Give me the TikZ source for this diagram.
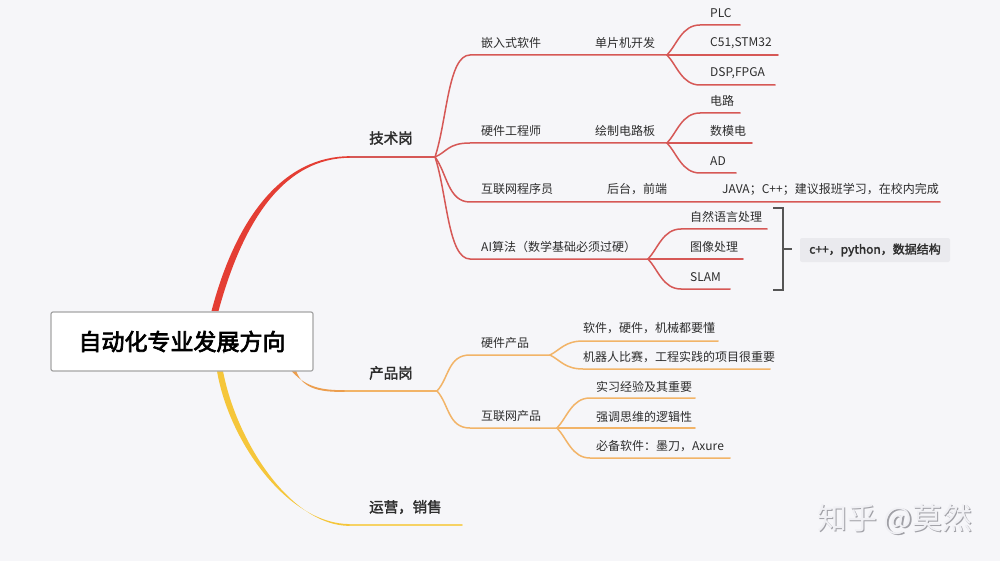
\documentclass[tikz,border=0pt]{standalone}
\usepackage{fontspec}
\setmainfont{Noto Sans CJK SC}[AutoFakeBold=2]
\newfontfamily\rootfont{Noto Sans CJK SC}[AutoFakeBold=3]
\usetikzlibrary{calc}
\definecolor{bg}{RGB}{246,246,249}
\definecolor{txt}{RGB}{45,45,45}
\definecolor{redthick}{RGB}{228,62,52}
\definecolor{redthin}{RGB}{214,88,86}
\definecolor{orthick}{RGB}{236,158,78}
\definecolor{orthin}{RGB}{242,180,104}
\definecolor{yethick}{RGB}{245,198,58}
\definecolor{yethin}{RGB}{246,210,100}
\definecolor{brk}{RGB}{85,85,85}
\definecolor{tagbg}{RGB}{234,234,238}
\definecolor{wmfront}{RGB}{240,240,244}
\definecolor{wmshadow}{RGB}{160,160,166}
\tikzset{
  lbl/.style={anchor=west, inner sep=0pt, text=txt, font=\fontsize{12}{14}\selectfont},
  mainlbl/.style={anchor=west, inner sep=0pt, text=txt, font=\fontsize{14.5}{17}\selectfont\bfseries},
  rl/.style={draw=redthin, line width=1.5pt, line cap=round},
  ol/.style={draw=orthin, line width=1.5pt, line cap=round},
  yl/.style={draw=yethin, line width=1.7pt, line cap=round},
}
\begin{document}
\begin{tikzpicture}[x=1pt,y=-1pt]
\fill[bg] (0,0) rectangle (1000,561);
\useasboundingbox (0,0) rectangle (1000,561);

% ---------- coordinates ----------
\coordinate (rt) at (215,311);
\coordinate (rh) at (350,157);
\coordinate (jT) at (435,157);
\coordinate (ot) at (292,369);
\coordinate (oh) at (345,391);
\coordinate (jP) at (437,391);
\coordinate (yt) at (220,371);
\coordinate (yh) at (350,525);
\coordinate (ye) at (462,525);

\coordinate (a1s) at (470,55);  \coordinate (a1j) at (667,55);
\coordinate (a2s) at (470,143); \coordinate (a2j) at (667,143);
\coordinate (a3s) at (470,202); \coordinate (a3e) at (940,202);
\coordinate (a4s) at (470,259); \coordinate (a4j) at (648,259);

\coordinate (b1s) at (700,25);  \coordinate (b1e) at (740,25);
\coordinate (b2e) at (778,55);
\coordinate (b3s) at (700,85);  \coordinate (b3e) at (775,85);
\coordinate (c1s) at (700,113); \coordinate (c1e) at (740,113);
\coordinate (c2e) at (752,143);
\coordinate (c3s) at (700,173); \coordinate (c3e) at (736,173);
\coordinate (d1s) at (681,229); \coordinate (d1e) at (767,229);
\coordinate (d2e) at (743,259);
\coordinate (d3s) at (681,289); \coordinate (d3e) at (730,289);

\coordinate (e1s) at (470,355); \coordinate (e1j) at (550,355);
\coordinate (e2s) at (470,428); \coordinate (e2j) at (557,428);
\coordinate (f1s) at (583,341); \coordinate (f1e) at (718,341);
\coordinate (f2s) at (583,369); \coordinate (f2e) at (770,369);
\coordinate (g1s) at (590,398); \coordinate (g1e) at (695,398);
\coordinate (g2e) at (695,428);
\coordinate (g3s) at (590,458); \coordinate (g3e) at (730,458);

% ---------- main branches (tapered) ----------
\fill[redthick] ($(rt)+(-3.5,0)$) .. controls (237,214) and (285,156.2) .. ($(rh)+(0,-0.8)$)
   -- ($(rh)+(0,0.8)$) .. controls (286,158) and (244,217) .. ($(rt)+(3.5,0)$) -- cycle;
\draw[rl, line width=1.7pt] (rh) -- (jT);

\fill[orthick] ($(ot)+(-3,-1)$) .. controls (305,388) and (322,390.2) .. ($(oh)+(0,-0.8)$)
   -- ($(oh)+(0,0.8)$) .. controls (318,392.5) and (300,388) .. ($(ot)+(3,-2)$) -- cycle;
\draw[ol, line width=1.7pt] (oh) -- (jP);

\fill[yethick] ($(yt)+(-3,0)$) .. controls (229,442) and (288,524.2) .. ($(yh)+(0,-0.9)$)
   -- ($(yh)+(0,0.9)$) .. controls (290,526) and (236,440) .. ($(yt)+(3,0)$) -- cycle;
\draw[yl] (yh) -- (ye);

% ---------- 技术岗 sub-branches ----------
\draw[rl] (jT) .. controls +(12,-36) and +(-22,0) .. (a1s) -- (a1j);
\draw[rl] (jT) .. controls +(12,-5) and +(-22,0) .. (a2s) -- (a2j);
\draw[rl] (jT) .. controls +(12,16) and +(-22,0) .. (a3s) -- (a3e);
\draw[rl] (jT) .. controls +(12,36) and +(-22,0) .. (a4s) -- (a4j);

\draw[rl] (a1j) .. controls +(10,-10.5) and +(-18,0) .. (b1s) -- (b1e);
\draw[rl] (a1j) -- (b2e);
\draw[rl] (a1j) .. controls +(10,10.5) and +(-18,0) .. (b3s) -- (b3e);

\draw[rl] (a2j) .. controls +(10,-10.5) and +(-18,0) .. (c1s) -- (c1e);
\draw[rl] (a2j) -- (c2e);
\draw[rl] (a2j) .. controls +(10,10.5) and +(-18,0) .. (c3s) -- (c3e);

\draw[rl] (a4j) .. controls +(10,-10.5) and +(-18,0) .. (d1s) -- (d1e);
\draw[rl] (a4j) -- (d2e);
\draw[rl] (a4j) .. controls +(10,10.5) and +(-18,0) .. (d3s) -- (d3e);

% ---------- 产品岗 sub-branches ----------
\draw[ol] (jP) .. controls +(12,-13) and +(-22,0) .. (e1s) -- (e1j);
\draw[ol] (jP) .. controls +(12,13) and +(-22,0) .. (e2s) -- (e2j);
\draw[ol] (e1j) .. controls +(10,-5) and +(-18,0) .. (f1s) -- (f1e);
\draw[ol] (e1j) .. controls +(10,5) and +(-18,0) .. (f2s) -- (f2e);
\draw[ol] (e2j) .. controls +(10,-10.5) and +(-18,0) .. (g1s) -- (g1e);
\draw[ol] (e2j) -- (g2e);
\draw[ol] (e2j) .. controls +(10,10.5) and +(-18,0) .. (g3s) -- (g3e);

% ---------- root ----------
\node[draw={rgb,255:red,165;green,165;blue,165}, line width=1.2pt, fill=white, rounded corners=2pt,
      minimum width=262pt, minimum height=59pt, inner sep=0pt,
      font=\rootfont\fontsize{23}{26}\selectfont\bfseries, text=black] (root) at (182,341.5) {自动化专业发展方向};

% ---------- labels ----------
\node[mainlbl] (tech) at (369,138) {技术岗};
\node[mainlbl] (prod) at (369,373) {产品岗};
\node[mainlbl] (ops)  at (369,507) {运营，销售};

\node[lbl] (emb) at (481,43) {嵌入式软件};
\node[lbl] (mcu) at (595,43) {单片机开发};
\node[lbl] (plc) at (710,13) {PLC};
\node[lbl] (c51) at (710,43) {C51,STM32};
\node[lbl] (dsp) at (710,73) {DSP,FPGA};

\node[lbl] (hw)  at (481,131) {硬件工程师};
\node[lbl] (pcb) at (595,131) {绘制电路板};
\node[lbl] (cir) at (710,101) {电路};
\node[lbl] (adc) at (710,131) {数模电};
\node[lbl] (ad)  at (710,161) {AD};

\node[lbl] (web) at (481,189) {互联网程序员};
\node[lbl] (be)  at (607,189) {后台，前端};
\node[lbl] (java) at (722,189) {JAVA；C++；建议报班学习，在校内完成};

\node[lbl] (ai)  at (481,247) {AI算法（数学基础必须过硬）};
\node[lbl] (nlp) at (690,217) {自然语言处理};
\node[lbl] (img) at (690,247) {图像处理};
\node[lbl] (slam) at (690,277) {SLAM};

\node[lbl] (hwp) at (481,343) {硬件产品};
\node[lbl] (h1)  at (583,328) {软件，硬件，机械都要懂};
\node[lbl] (h2)  at (583,357) {机器人比赛，工程实践的项目很重要};
\node[lbl] (wp)  at (481,416) {互联网产品};
\node[lbl] (w1)  at (596,387) {实习经验及其重要};
\node[lbl] (w2)  at (596,417) {强调思维的逻辑性};
\node[lbl] (w3)  at (596,446) {必备软件：墨刀，Axure};

% ---------- bracket + tag ----------
\coordinate (bt) at (783,208);
\coordinate (bb) at (783,290);
\coordinate (bm) at (783,249);
\node[fill=tagbg, rounded corners=2pt, minimum width=150pt, minimum height=24pt, inner sep=0pt,
      font=\fontsize{12}{14}\selectfont\bfseries, text=txt] (tag) at (875,250) {c++，python，数据结构};
\draw[draw=brk, line width=1.5pt] ($(bt)+(-10,0)$) -- (bt) -- (bb) -- ($(bb)+(-10,0)$);
\draw[draw=brk, line width=1.5pt] (bm) -- ($(bm)+(9,0)$);

% ---------- watermark ----------
\node[anchor=west, inner sep=0pt, text=wmshadow, font=\fontsize{30}{34}\selectfont] (wms) at (818.3,520.8) {知乎 @莫然};
\node[anchor=west, inner sep=0pt, text=wmfront, font=\fontsize{30}{34}\selectfont] (wm) at (817,519.5) {知乎 @莫然};
\end{tikzpicture}
\end{document}
